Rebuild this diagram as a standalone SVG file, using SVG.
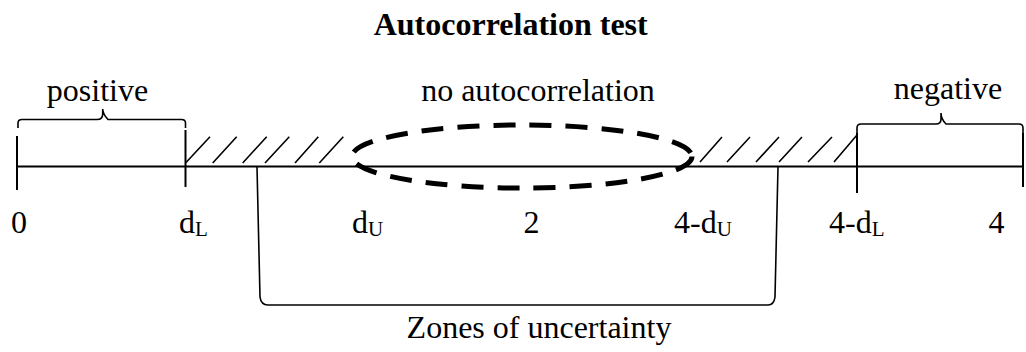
<svg xmlns="http://www.w3.org/2000/svg" width="1026" height="352" viewBox="0 0 1026 352">
<style>
text{font-family:"Liberation Serif","Times New Roman",serif;font-size:32px;fill:#000}
.t{font-weight:bold}
.sub{font-size:21px}
.ln{stroke:#000;stroke-width:2;fill:none}
.h{stroke:#000;stroke-width:1.6;fill:none}
.br{stroke:#000;stroke-width:1.6;fill:none}
.el{stroke:#000;stroke-width:5;fill:none;stroke-dasharray:22 14}
</style>
<rect width="1026" height="352" fill="#fff"/>
<g id="title"><text class="t" x="510.7" y="35" text-anchor="middle">Autocorrelation test</text></g>
<g id="axis">
<line class="ln" x1="17" y1="166.5" x2="1023" y2="166.5"/>
<line class="ln" x1="17" y1="136" x2="17" y2="190"/>
<line class="ln" x1="185.5" y1="130" x2="185.5" y2="187"/>
<line class="ln" x1="857" y1="133" x2="857" y2="193"/>
<line class="ln" x1="1023" y1="133" x2="1023" y2="187"/>
</g>
<g id="hatch-left">
<path class="h" d="M186,162.5L210,136.7M212.7,163L236.7,136.7M242.7,163L266.7,136.7M265,163L289.3,136.7M295,163L318.3,136.7M319.3,163L343.3,136.7"/>
</g>
<g id="hatch-right">
<path class="h" d="M700,162L722,137M727,162L750,137M756,162L779,137M779,162L802,137M808,162L832,137M834,162L857,135"/>
</g>
<g id="positive">
<path class="br" d="M18,128V123Q18,119.5 22,119.5H97Q102.7,119.5 102.7,114V109Q102.7,114 108,119.5H181.5Q185.5,119.5 185.5,123V128"/>
<text x="97.5" y="101" text-anchor="middle">positive</text>
</g>
<g id="no-autocorrelation">
<ellipse class="el" cx="522" cy="156.5" rx="170" ry="31.5"/>
<text x="538" y="101" text-anchor="middle">no autocorrelation</text>
</g>
<g id="negative">
<path class="br" d="M857,133V128Q857,124 861,124H936Q941,124 941,119V113Q941,119 946,124H1019Q1023,124 1023,128V133"/>
<text x="948" y="99" text-anchor="middle">negative</text>
</g>
<g id="labels">
<text x="19" y="233" text-anchor="middle">0</text>
<text x="179" y="233">d<tspan class="sub" dy="3">L</tspan></text>
<text x="352" y="233">d<tspan class="sub" dy="3">U</tspan></text>
<text x="531.5" y="233" text-anchor="middle">2</text>
<text x="674" y="233">4-d<tspan class="sub" dy="3">U</tspan></text>
<text x="829" y="233">4-d<tspan class="sub" dy="3">L</tspan></text>
<text x="996.5" y="233" text-anchor="middle">4</text>
</g>
<g id="uncertainty">
<path class="br" d="M257,167L260,297Q261,305 268,305H768Q774,305 775,297L778,167"/>
<text x="539" y="338" text-anchor="middle">Zones of uncertainty</text>
</g>
</svg>
